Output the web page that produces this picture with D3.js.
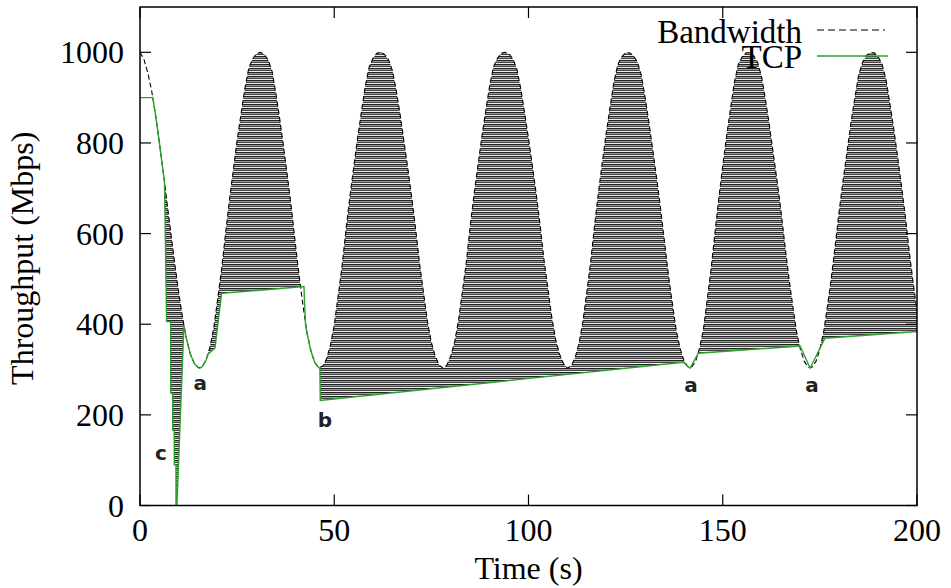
<!DOCTYPE html>
<html>
<head>
<meta charset="utf-8">
<script src="https://cdn.jsdelivr.net/npm/d3@7"></script>
<style>
body { margin: 0; background: #fff; }
text { font-family: "Liberation Serif", "Times New Roman", serif; }
</style>
</head>
<body>
<div id="chart_area"></div>
<script>
var width = 951
var height = 588
var margin = {left: 140, right: 34, top: 7, bottom: 82.5}

// ticks
var xTicks = [0, 50, 100, 150, 200]
var yTicks = [0, 200, 400, 600, 800, 1000]

// Bandwidth, one sample per second
var bwTime = d3.range(0, 201)
var bwValue = [
  1000, 985, 955, 915, 862, 800, 735, 665, 597, 530, 468, 412, 366, 333, 313, 304,
  306, 321, 349, 393, 456, 521, 598, 672, 739, 806, 864, 920, 965, 986, 997,
  1000, 995, 983, 958, 908, 851, 788, 723, 654, 577, 504, 439, 380, 341, 315, 304,
  307, 323, 353, 398, 462, 528, 606, 680, 746, 810, 869, 926, 968, 987, 998,
  1000, 995, 983, 959, 914, 860, 800, 740, 676, 606, 531, 468, 405, 360, 329, 310, 303,
  310, 330, 361, 409, 473, 537, 617, 687, 751, 814, 871, 926, 968, 987, 998,
  1000, 996, 985, 963, 920, 866, 810, 749, 687, 618, 541, 478, 415, 366, 334, 313, 303,
  308, 326, 358, 405, 470, 537, 618, 690, 757, 821, 879, 935, 973, 990, 999,
  999, 993, 979, 951, 901, 845, 784, 721, 655, 582, 510, 447, 388, 347, 320, 306,
  305, 318, 346, 387, 454, 522, 602, 679, 749, 815, 876, 934, 973, 990, 999,
  999, 992, 977, 946, 895, 839, 777, 715, 649, 574, 504, 441, 383, 344, 318, 305,
  305, 318, 345, 384, 443, 506, 577, 652, 719, 781, 844, 899, 951, 978, 993, 999,
  999, 990, 974, 941, 888, 832, 770, 706, 638, 561, 492, 429
]

// TCP throughput
var tcpTime = [0, 3.3, 4, 5, 6, 6.3, 6.85, 7.88, 7.9, 8.4, 8.42, 8.81, 8.83, 9.25, 9.27, 9.5,
  11.3, 12, 13, 14, 15, 15.4, 16, 17, 17.6, 19.3, 21, 42.2, 42.6, 43, 44, 45, 46, 46.3, 46.4,
  139.8, 141.6, 143.7, 169.9, 172.5, 176.3, 200]
var tcpValue = [900, 900, 862, 800, 735, 715, 406, 406, 248, 248, 166, 166, 90, 90, 0, 0,
  398, 366, 333, 313, 304, 303, 306, 321, 335, 347, 468, 483, 400, 380, 341, 315, 304, 303, 232,
  316, 303, 336, 352, 303, 369, 384]

// annotations
var noteLabel = ["a", "b", "c", "a", "a"]
var noteTime = [15.5, 47.6, 5.4, 141.8, 173]
var noteValue = [255, 173, 100, 250, 250]

var seriesNames = ["Bandwidth", "TCP"]

var green = "#2ca02c"

var svg = d3.select("#chart_area")
  .append("svg")
  .attr("width", width)
  .attr("height", height)

var x = d3.scaleLinear().domain([0, 200]).range([margin.left, width - margin.right])
var y = d3.scaleLinear().domain([0, 1100]).range([height - margin.bottom, margin.top])

var bw = bwTime.map((t, i) => [t, bwValue[i]])
var tcp = tcpTime.map((t, i) => [t, tcpValue[i]])

var defs = svg.append("defs")

// horizontal stripe hatch
var pat = defs.append("pattern")
  .attr("id", "hatch")
  .attr("patternUnits", "userSpaceOnUse")
  .attr("width", 8)
  .attr("height", 4)
pat.append("rect").attr("width", 8).attr("height", 4).attr("fill", "#ececec")
pat.append("rect").attr("y", 0).attr("width", 8).attr("height", 1).attr("fill", "#222")
pat.append("rect").attr("y", 1).attr("width", 8).attr("height", 1).attr("fill", "#9a9a9a")
pat.append("rect").attr("y", 2).attr("width", 8).attr("height", 1).attr("fill", "#444")

defs.append("clipPath").attr("id", "plotclip")
  .append("rect")
  .attr("x", x(0)).attr("y", y(1100))
  .attr("width", x(200) - x(0)).attr("height", y(0) - y(1100))

defs.append("clipPath").attr("id", "underbw")
  .append("path")
  .attr("d", d3.area().x(d => x(d[0])).y0(y(0) + 5).y1(d => y(d[1]))(bw))

defs.append("clipPath").attr("id", "abovetcp")
  .append("path")
  .attr("d", d3.area().x(d => x(d[0])).y0(y(1100)).y1(d => y(d[1]))(tcp))

var plot = svg.append("g").attr("clip-path", "url(#plotclip)")

// shaded gap between bandwidth and TCP
plot.append("g")
  .attr("clip-path", "url(#abovetcp)")
  .append("rect")
  .attr("clip-path", "url(#underbw)")
  .attr("x", x(tcpTime[1]))
  .attr("y", y(1100))
  .attr("width", x(200) - x(tcpTime[1]))
  .attr("height", y(0) - y(1100))
  .attr("fill", "url(#hatch)")

var line = d3.line().x(d => x(d[0])).y(d => y(d[1]))

plot.append("path")
  .attr("d", line(bw))
  .attr("fill", "none")
  .attr("stroke", "#000")
  .attr("stroke-width", 1.1)
  .attr("stroke-dasharray", "5,3")

plot.append("path")
  .attr("d", line(tcp))
  .attr("fill", "none")
  .attr("stroke", green)
  .attr("stroke-width", 1.4)

// border
svg.append("rect")
  .attr("x", x(0)).attr("y", y(1100))
  .attr("width", x(200) - x(0)).attr("height", y(0) - y(1100))
  .attr("fill", "none")
  .attr("stroke", "#000")
  .attr("stroke-width", 1.5)

var tickLen = 11

xTicks.forEach(t => {
  svg.append("line")
    .attr("x1", x(t)).attr("x2", x(t))
    .attr("y1", y(0)).attr("y2", y(0) - tickLen)
    .attr("stroke", "#000").attr("stroke-width", 1.2)
  svg.append("line")
    .attr("x1", x(t)).attr("x2", x(t))
    .attr("y1", y(1100)).attr("y2", y(1100) + tickLen)
    .attr("stroke", "#000").attr("stroke-width", 1.2)
  svg.append("text")
    .attr("x", x(t))
    .attr("y", 541)
    .attr("text-anchor", "middle")
    .style("font-size", "32px")
    .text(t)
})

yTicks.forEach(v => {
  svg.append("line")
    .attr("x1", x(0)).attr("x2", x(0) + tickLen)
    .attr("y1", y(v)).attr("y2", y(v))
    .attr("stroke", "#000").attr("stroke-width", 1.2)
  svg.append("line")
    .attr("x1", x(200)).attr("x2", x(200) - tickLen)
    .attr("y1", y(v)).attr("y2", y(v))
    .attr("stroke", "#000").attr("stroke-width", 1.2)
  svg.append("text")
    .attr("x", 124)
    .attr("y", y(v) + 11)
    .attr("text-anchor", "end")
    .style("font-size", "32px")
    .text(v)
})

// axis titles
svg.append("text")
  .attr("x", (x(0) + x(200)) / 2)
  .attr("y", 579)
  .attr("text-anchor", "middle")
  .style("font-size", "32px")
  .text("Time (s)")

svg.append("text")
  .attr("transform", "translate(33," + ((y(0) + y(1100)) / 2 + 2) + ") rotate(-90)")
  .attr("text-anchor", "middle")
  .style("font-size", "32px")
  .text("Throughput (Mbps)")

// annotations
noteLabel.forEach((s, i) => {
  svg.append("text")
    .attr("x", x(noteTime[i]))
    .attr("y", y(noteValue[i]))
    .attr("text-anchor", "middle")
    .style("font-family", "'DejaVu Sans', sans-serif")
    .style("font-size", "20px")
    .style("font-weight", "bold")
    .attr("fill", "#222")
    .text(s)
})

// legend
var legend = svg.append("g")
legend.append("text")
  .attr("x", 802).attr("y", 43)
  .attr("text-anchor", "end")
  .style("font-size", "33px")
  .text(seriesNames[0])
legend.append("line")
  .attr("x1", 817).attr("x2", 885)
  .attr("y1", 30).attr("y2", 30)
  .attr("stroke", "#000").attr("stroke-width", 1.1)
  .attr("stroke-dasharray", "7,4")
legend.append("text")
  .attr("x", 802).attr("y", 68)
  .attr("text-anchor", "end")
  .style("font-size", "33px")
  .text(seriesNames[1])
legend.append("line")
  .attr("x1", 817).attr("x2", 888)
  .attr("y1", 56).attr("y2", 56)
  .attr("stroke", green).attr("stroke-width", 1.6)
</script>
</body>
</html>
